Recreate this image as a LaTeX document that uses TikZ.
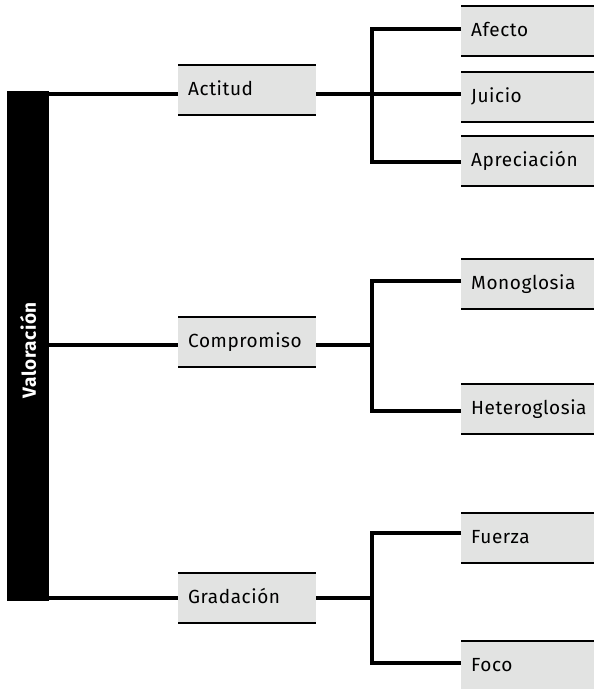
\documentclass[tikz,border=0pt]{standalone}
\usepackage{fontspec}
\setmainfont{Fira Sans}[LetterSpace=3]
\definecolor{boxgray}{HTML}{E2E3E2}
\begin{document}
\begin{tikzpicture}[x=1pt,y=-1pt,
  conn/.style={line width=4pt, line join=miter},
  edge/.style={line width=2pt},
  lbox/.style={fill=boxgray, anchor=north west, minimum height=50pt,
    text width=#1, inner xsep=10pt, inner ysep=0pt, align=left,
    text height=15pt, text depth=4pt,
    font=\fontsize{19}{22}\selectfont},
]
\useasboundingbox (0,0) rectangle (594,689);
\clip (0,0) rectangle (594,689);
% left bar
\node[fill=black, minimum width=42pt, minimum height=510pt, anchor=north west, inner sep=0pt] (bar) at (7,91) {};
\node[rotate=90, text=white, font=\fontsize{19}{22}\selectfont\bfseries] (vlabel) at ([yshift=-4pt]bar.center) {Valoración};
% middle boxes
\node[lbox=118pt] (actitud) at (178,65) {Actitud};
\node[lbox=118pt] (compromiso) at (178,317) {Compromiso};
\node[lbox=118pt] (gradacion) at (178,573) {Gradación};
% right boxes
\node[lbox=113pt] (afecto) at (461,6) {Afecto};
\node[lbox=113pt] (juicio) at (461,72) {Juicio};
\node[lbox=113pt] (apreciacion) at (461,136) {Apreciación};
\node[lbox=113pt] (monoglosia) at (461,259) {Monoglosia};
\node[lbox=113pt] (heteroglosia) at (461,384) {Heteroglosia};
\node[lbox=113pt] (fuerza) at (461,513) {Fuerza};
\node[lbox=113pt] (foco) at (461,641) {Foco};
% box borders
\foreach \n in {actitud,compromiso,gradacion,afecto,juicio,apreciacion,monoglosia,heteroglosia,fuerza,foco}
  \draw[edge] (\n.north west) -- (\n.north east) (\n.south west) -- (\n.south east);
% junctions
\coordinate (jA) at (372,94);
\coordinate (jC) at (372,345);
\coordinate (jG) at (372,598);
% bar to middle
\draw[conn] (bar.east |- jA) -- (actitud.west |- jA);
\draw[conn] (bar.east |- jC) -- (compromiso.west |- jC);
\draw[conn] (bar.east |- jG) -- (gradacion.west |- jG);
% middle to junction
\draw[conn] (actitud.east |- jA) -- (jA);
\draw[conn] (compromiso.east |- jC) -- (jC);
\draw[conn] (gradacion.east |- jG) -- (jG);
% brackets
\draw[conn] (afecto.west |- 0,29) -| (jA |- 0,162) -- (apreciacion.west |- 0,162);
\draw[conn] (jA) -- (juicio.west |- jA);
\draw[conn] (monoglosia.west |- 0,281) -| (jC |- 0,411) -- (heteroglosia.west |- 0,411);
\draw[conn] (fuerza.west |- 0,533) -| (jG |- 0,663) -- (foco.west |- 0,663);
\end{tikzpicture}
\end{document}
